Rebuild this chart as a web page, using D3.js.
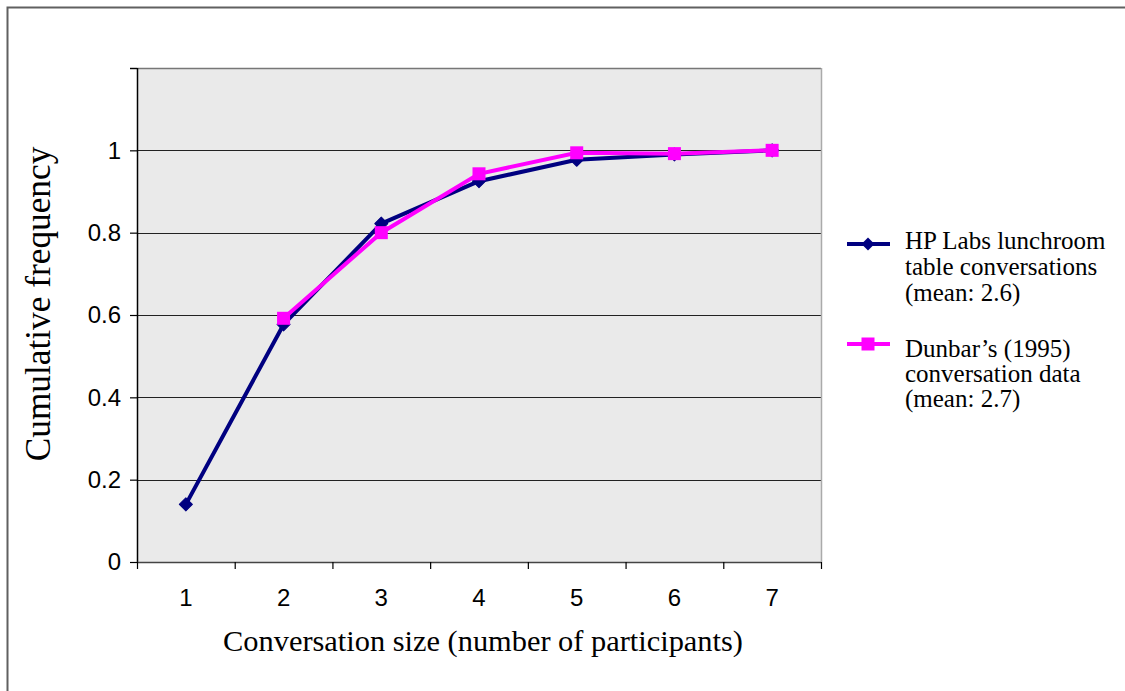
<!DOCTYPE html>
<html><head><meta charset="utf-8">
<script src="https://cdn.jsdelivr.net/npm/d3@7"></script>
<style>body{margin:0;background:#fff;}svg{display:block;}</style>
</head><body>
<script>
const categories = ["1","2","3","4","5","6","7"];
const hpValues = [0.14, 0.577, 0.822, 0.925, 0.977, 0.99, 1.0];
const dunbarCategories = ["2","3","4","5","6","7"];
const dunbarValues = [0.592, 0.80, 0.943, 0.994, 0.992, 1.0];
const yTicks = [0, 0.2, 0.4, 0.6, 0.8, 1];
const hpLegend = ["HP Labs lunchroom", "table conversations", "(mean: 2.6)"];
const dunbarLegend = ["Dunbar\u2019s (1995)", "conversation data", "(mean: 2.7)"];

const W = 1125, H = 691;
const L = 137, R = 821, T = 68, B = 562;
const svg = d3.select("body").append("svg").attr("width", W).attr("height", H);

// outer border (only top & left visible)
svg.append("rect").attr("x", 7.5).attr("y", 7.5).attr("width", 1300).attr("height", 900)
  .attr("fill", "none").attr("stroke", "#606060").attr("stroke-width", 2);

const x = d3.scaleBand().domain(categories).range([L, R]);
const y = d3.scaleLinear().domain([0, 1.2]).range([B, T]);
const cx = d => x(d) + x.bandwidth() / 2;

svg.append("rect").attr("x", L).attr("y", T).attr("width", R - L).attr("height", B - T).attr("fill", "#EAEAEA");

// gridlines
const gridVals = [0.2, 0.4, 0.6, 0.8, 1.0];
svg.append("g").selectAll("line").data(gridVals).join("line")
  .attr("x1", L).attr("x2", R).attr("y1", d => Math.round(y(d)) + 0.5).attr("y2", d => Math.round(y(d)) + 0.5)
  .attr("stroke", "#222").attr("stroke-width", 1.2);
svg.append("line").attr("x1", L - 7).attr("x2", R).attr("y1", T + 0.5).attr("y2", T + 0.5)
  .attr("stroke", "#777").attr("stroke-width", 1.5);
svg.append("line").attr("x1", R + 0.5).attr("x2", R + 0.5).attr("y1", T).attr("y2", B)
  .attr("stroke", "#aaa").attr("stroke-width", 1.5);

// y axis
const yAxis = d3.axisLeft(y).tickValues(yTicks.concat([1.2])).tickSize(7).tickPadding(9)
  .tickFormat(d => d === 1.2 ? "" : d3.format("")(d));
const gy = svg.append("g").attr("transform", `translate(${L},0)`).call(yAxis);
gy.select(".domain").attr("stroke", "#000").attr("stroke-width", 1.5).attr("d", `M0.5,${T}V${B}`);
gy.selectAll(".tick line").attr("stroke", "#000").attr("stroke-width", 1.2);
gy.selectAll(".tick text").attr("font-family", "Liberation Sans, Arial, sans-serif").attr("font-size", 24).attr("fill", "#000");

// x axis
const xAxis = d3.axisBottom(x).tickSize(0).tickPadding(27);
const gx = svg.append("g").attr("transform", `translate(0,${B})`).call(xAxis);
gx.select(".domain").attr("stroke", "#444").attr("stroke-width", 1.5).attr("d", `M${L},0.5H${R}`);
gx.selectAll(".tick text").attr("font-family", "Liberation Sans, Arial, sans-serif").attr("font-size", 24).attr("fill", "#000");
// category boundary ticks
const bounds = categories.map(c => x(c)).concat([R]);
svg.append("g").selectAll("line").data(bounds).join("line")
  .attr("x1", d => d + 0.5).attr("x2", d => d + 0.5).attr("y1", B).attr("y2", B + 7)
  .attr("stroke", "#000").attr("stroke-width", 1.2);

// lines
const hpData = categories.map((c, i) => ({c, v: hpValues[i]}));
const duData = dunbarCategories.map((c, i) => ({c, v: dunbarValues[i]}));
const line = d3.line().x(d => cx(d.c)).y(d => y(d.v));
svg.append("path").datum(hpData).attr("d", line).attr("fill", "none").attr("stroke", "#000080").attr("stroke-width", 4).attr("stroke-linejoin", "round");
svg.append("g").selectAll("path").data(hpData).join("path")
  .attr("transform", d => `translate(${cx(d.c)},${y(d.v)}) rotate(45)`).attr("d", d3.symbol().type(d3.symbolSquare).size(85)).attr("fill", "#000080")
  .attr("stroke", "#000080").attr("stroke-width", 1).attr("stroke-linejoin", "round");

svg.append("path").datum(duData).attr("d", line).attr("fill", "none").attr("stroke", "#FF00FF").attr("stroke-width", 4);
svg.append("g").selectAll("rect").data(duData).join("rect")
  .attr("x", d => cx(d.c) - 6.5).attr("y", d => y(d.v) - 6.5).attr("width", 13).attr("height", 13).attr("fill", "#FF00FF");

// legend
const lx1 = 847, lx2 = 890, lm = 868, tx = 905;
const leg = svg.append("g");
leg.append("line").attr("x1", lx1).attr("x2", lx2).attr("y1", 244).attr("y2", 244).attr("stroke", "#000080").attr("stroke-width", 4);
leg.append("path").attr("transform", `translate(${lm},244) rotate(45)`).attr("d", d3.symbol().type(d3.symbolSquare).size(85)).attr("fill", "#000080");
leg.append("line").attr("x1", lx1).attr("x2", lx2).attr("y1", 344).attr("y2", 344).attr("stroke", "#FF00FF").attr("stroke-width", 4);
leg.append("rect").attr("x", lm - 6.5).attr("y", 344 - 6.5).attr("width", 13).attr("height", 13).attr("fill", "#FF00FF");
const serif = "Liberation Serif, Times New Roman, serif";
leg.append("text").attr("font-family", serif).attr("font-size", 25).attr("fill", "#000")
  .selectAll("tspan").data(hpLegend).join("tspan").attr("x", tx).attr("y", (d, i) => 249 + i * 26).text(d => d);
leg.append("text").attr("font-family", serif).attr("font-size", 25).attr("fill", "#000")
  .selectAll("tspan").data(dunbarLegend).join("tspan").attr("x", tx).attr("y", (d, i) => 357 + i * 25).text(d => d);

// axis titles
svg.append("text").attr("x", 483).attr("y", 651).attr("text-anchor", "middle")
  .attr("font-family", serif).attr("font-size", 30.4).attr("fill", "#000").text("Conversation size (number of participants)");
svg.append("text").attr("transform", "translate(50,304) rotate(-90)").attr("text-anchor", "middle")
  .attr("font-family", serif).attr("font-size", 35.3).attr("fill", "#000").text("Cumulative frequency");
</script>
</body></html>
